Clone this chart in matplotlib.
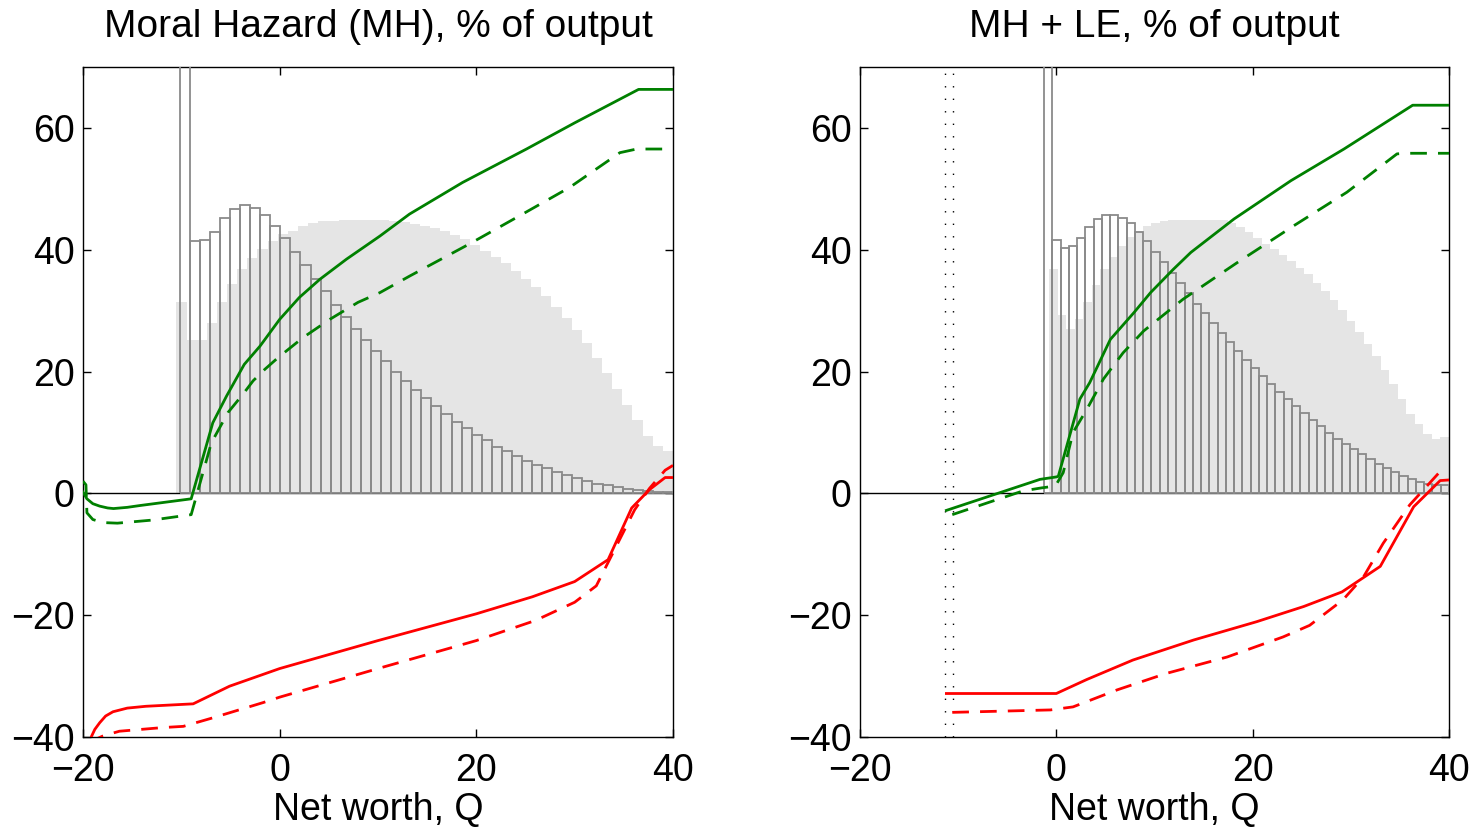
import numpy as np
import matplotlib
matplotlib.use("Agg")
import matplotlib.pyplot as plt

plt.rcParams['font.family'] = ['Liberation Sans', 'DejaVu Sans']

# region data
titles = ["Moral Hazard (MH), % of output", "MH + LE, % of output"]
xlabel = "Net worth, Q"

# left panel: distributions (bar heights, equal bins)
histL_gray = [31.5, 25.2, 25.2, 28.0, 31.4, 34.4, 36.8, 38.7, 40.2, 41.5, 42.6, 43.1,
              43.9, 44.5, 44.8, 44.8, 45.0, 45.0, 45.0, 45.0, 45.0, 44.8, 44.6, 44.3,
              44.0, 43.6, 43.1, 42.5, 41.8, 40.9, 39.9, 38.9, 37.8, 36.6, 35.3, 33.9,
              32.4, 30.7, 28.9, 26.9, 24.7, 22.3, 19.8, 17.2, 14.6, 12.0, 9.5, 7.8, 7.0]
histL_gray_rng = (-10.5, 40.0)
histL_open = [120.0, 41.4, 41.6, 43.0, 45.2, 46.8, 47.4, 46.9, 45.7, 43.9, 41.9, 39.7,
              37.5, 35.3, 33.2, 31.0, 29.0, 27.0, 25.2, 23.4, 21.7, 20.0, 18.4, 17.0,
              15.7, 14.3, 13.0, 11.8, 10.7, 9.6, 8.7, 7.7, 6.9, 6.1, 5.3, 4.7, 4.1,
              3.5, 3.0, 2.5, 2.0, 1.6, 1.3, 1.0, 0.7, 0.5, 0.4, 0.3, 0.2]
histL_open_rng = (-10.17, 40.0)

# left panel: lines
gL_sol_x = [-20, -19.6, -19.0, -18.3, -17.5, -16.9, -15.5, -14.2, -9.0, -6.8, -5.4, -3.6,
            -2.0, 0, 2.0, 4.1, 6.8, 10.2, 13.2, 18.6, 25.1, 30.0, 36.5, 40]
gL_sol_y = [0.2, -0.9, -1.7, -2.1, -2.4, -2.5, -2.3, -2.0, -0.9, 11.6, 16.0, 21.2,
            24.2, 28.6, 32.2, 35.2, 38.5, 42.3, 45.9, 51.1, 56.6, 60.9, 66.4, 66.4]
gL_das_x = [-20, -19.7, -19.6, -19.0, -18.0, -16.5, -13.0, -9.0, -6.95, -5.25, -3.73, -2.7,
            -1.5, -0.17, 2.37, 5.1, 7.97, 10.2, 13.2, 19.3, 24.7, 29.5, 34.6, 36.3, 40]
gL_das_y = [2.0, 1.4, -3.2, -4.3, -4.8, -4.9, -4.4, -3.5, 8.3, 13.3, 16.3, 18.5,
            20.4, 22.3, 25.6, 28.6, 31.4, 33.0, 35.7, 41.0, 45.9, 50.3, 56.0, 56.6, 56.6]
rL_sol_x = [-19.5, -19.15, -18.8, -18.3, -17.7, -16.95, -15.5, -13.6, -8.8, -5.1, 0, 10,
            20, 25.7, 30, 33.4, 35.8, 37.6, 39.2, 40]
rL_sol_y = [-41.5, -40.0, -38.8, -37.7, -36.6, -35.9, -35.3, -35.0, -34.6, -31.7, -28.8,
            -24.2, -19.8, -17.0, -14.5, -10.9, -2.4, 0.6, 2.6, 2.6]
rL_das_x = [-19.5, -18.0, -16.3, -11.9, -9.8, -6.8, -1.7, 0, 10, 20, 26, 30, 32.2, 36.1,
            37.6, 39.2, 40]
rL_das_y = [-41.0, -39.9, -39.1, -38.5, -38.3, -36.9, -34.4, -33.5, -28.8, -24.2, -20.9,
            -17.9, -15.2, -2.7, 0.8, 3.8, 4.6]

# right panel: distributions
histR_gray = [36.8, 29.3, 27.0, 28.7, 31.5, 34.3, 36.8, 38.9, 40.7, 42.2, 43.1, 43.9,
              44.4, 44.7, 44.9, 45.0, 45.0, 45.0, 45.0, 45.0, 44.9, 44.5, 43.7, 42.9,
              42.0, 41.0, 40.1, 39.1, 38.2, 37.1, 36.0, 34.6, 33.3, 31.8, 30.2, 28.4,
              26.5, 24.5, 22.5, 20.3, 17.9, 15.5, 13.0, 11.4, 9.7, 8.9, 9.3]
histR_gray_rng = (-0.74, 40.0)
histR_open = [120.0, 41.7, 40.4, 40.7, 42.0, 43.8, 45.1, 45.8, 45.8, 45.2, 44.4, 43.0,
              41.4, 39.7, 38.0, 36.3, 34.5, 32.9, 31.2, 29.6, 28.0, 26.4, 24.9, 23.4,
              22.0, 20.6, 19.3, 18.0, 16.7, 15.5, 14.3, 13.2, 12.1, 11.1, 10.0, 9.0,
              8.1, 7.3, 6.4, 5.6, 4.9, 4.2, 3.5, 2.8, 2.3, 1.9, 1.5, 1.4, 1.4]
histR_open_rng = (-1.25, 40.0)

# right panel: lines
gR_sol_x = [-11.2, -1.66, 0.0, 0.2, 2.4, 3.4, 5.5, 7.9, 9.6, 11.9, 13.7, 18.1, 23.9,
            29.3, 36.3, 40]
gR_sol_y = [-2.8, 2.3, 2.7, 2.8, 15.5, 18.2, 25.3, 29.7, 33.0, 36.8, 39.6, 45.1, 51.4,
            56.6, 63.8, 63.8]
gR_das_x = [-10.6, -3.4, -1.5, -0.1, 0.7, 1.7, 3.1, 4.8, 6.8, 8.9, 12.9, 18.4, 24.2,
            29.6, 34.7, 35.5, 40]
gR_das_y = [-3.5, 0.4, 0.9, 1.2, 3.4, 10.0, 13.8, 18.8, 23.1, 26.7, 31.9, 37.9, 44.0,
            49.5, 55.8, 55.9, 55.9]
rR_sol_x = [-11.2, 0.0, 3.1, 7.8, 14.0, 20.4, 25.2, 29.1, 33.0, 36.4, 39.1, 40]
rR_sol_y = [-32.9, -32.9, -30.6, -27.4, -24.1, -21.1, -18.6, -16.2, -12.0, -2.2, 2.1, 2.2]
rR_das_x = [-10.6, -0.6, 1.7, 6.2, 11.2, 17.4, 23.1, 25.8, 29.2, 31.3, 33.3, 36.0, 39.1]
rR_das_y = [-36.0, -35.6, -35.1, -32.3, -29.6, -26.9, -23.6, -21.7, -17.5, -13.7, -8.2,
            -1.9, 3.6]
rR_vlines = [-11.3, -10.5]
# endregion

GREEN = '#008000'
RED = '#ff0000'
DASH = (0, (6, 4))


def draw_hist(ax, heights, rng, filled):
    edges = np.linspace(rng[0], rng[1], len(heights) + 1)
    if filled:
        ax.bar(edges[:-1], heights, width=np.diff(edges), align='edge',
               color='#e5e5e5', edgecolor='none', linewidth=0, zorder=1)
    else:
        ax.bar(edges[:-1], heights, width=np.diff(edges), align='edge',
               facecolor='none', edgecolor='#8a8a8a', linewidth=1.3, zorder=3)


def panel(ax, title, hg, hg_rng, ho, ho_rng, lines):
    ax.axhline(0, color='black', linewidth=1.0, zorder=2)
    draw_hist(ax, hg, hg_rng, True)
    draw_hist(ax, ho, ho_rng, False)
    for x, y, c, ls in lines:
        ax.plot(x, y, color=c, linestyle=ls, linewidth=2.0, zorder=4)
    ax.set_xlim(-20, 40)
    ax.set_ylim(-40, 70)
    ax.set_xticks([-20, 0, 20, 40])
    ax.set_yticks([-40, -20, 0, 20, 40, 60])
    ax.tick_params(direction='in', length=6, width=1.0, top=True, right=True,
                   labelsize=27)
    ax.tick_params(axis='x', pad=12)
    ax.tick_params(axis='y', pad=6)
    for s in ax.spines.values():
        s.set_linewidth(1.0)
    ax.set_title(title, fontsize=28, pad=22)
    ax.set_xlabel(xlabel, fontsize=27, labelpad=2)


fig = plt.figure(figsize=(14.74, 8.30), dpi=100)
axL = fig.add_axes([83 / 1474, (830 - 736.7) / 830, 590 / 1474, 669.2 / 830])
axR = fig.add_axes([860 / 1474, (830 - 736.7) / 830, 589 / 1474, 669.2 / 830])

panel(axL, titles[0], histL_gray, histL_gray_rng, histL_open, histL_open_rng,
      [(gL_sol_x, gL_sol_y, GREEN, '-'), (gL_das_x, gL_das_y, GREEN, DASH),
       (rL_sol_x, rL_sol_y, RED, '-'), (rL_das_x, rL_das_y, RED, DASH)])
panel(axR, titles[1], histR_gray, histR_gray_rng, histR_open, histR_open_rng,
      [(gR_sol_x, gR_sol_y, GREEN, '-'), (gR_das_x, gR_das_y, GREEN, DASH),
       (rR_sol_x, rR_sol_y, RED, '-'), (rR_das_x, rR_das_y, RED, DASH)])
for xv in rR_vlines:
    axR.axvline(xv, color='black', linestyle=(0, (1, 8)), linewidth=1.0, zorder=2)

fig.savefig('out.png', dpi=100)
